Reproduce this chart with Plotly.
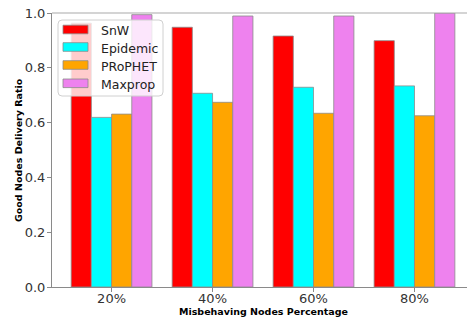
import plotly.graph_objects as go

# Delivery ratio of well-behaved nodes vs share of misbehaving nodes
categories = ["20%", "40%", "60%", "80%"]
snw = [0.963, 0.948, 0.916, 0.899]
epidemic = [0.619, 0.707, 0.729, 0.734]
prophet = [0.631, 0.674, 0.634, 0.625]
maxprop = [0.994, 0.989, 0.989, 1.0]

series_names = ["SnW", "Epidemic", "PRoPHET", "Maxprop"]
series_values = [snw, epidemic, prophet, maxprop]
series_colors = ["#ff0000", "#00ffff", "#ffa500", "#ee82ee"]

y_ticks = [0.0, 0.2, 0.4, 0.6, 0.8, 1.0]

W, H = 467, 320
L, T, B, R = 52, 13, 33, 0
PW, PH = W - L - R, H - T - B

def px(x):
    return (x - L) / PW

def py(y):
    return (H - B - y) / PH

fig = go.Figure()
for name, vals, col in zip(series_names, series_values, series_colors):
    fig.add_trace(go.Bar(
        x=categories, y=vals, name=name,
        marker=dict(color=col, line=dict(color="#8c8c8c", width=0.8)),
        showlegend=False,
    ))

axis_font = dict(family="DejaVu Sans", size=13, color="#333333")
spine = "#8a8a8a"

fig.update_layout(
    width=W, height=H,
    margin=dict(l=L, r=R, t=T, b=B),
    paper_bgcolor="white", plot_bgcolor="white",
    barmode="group", bargap=0.2, bargroupgap=0,
    font=axis_font,
    xaxis=dict(
        type="category", range=[-0.59, 3.52],
        showline=True, linecolor=spine, linewidth=1, mirror=False,
        ticks="outside", ticklen=4, tickcolor=spine, tickwidth=1,
        tickfont=axis_font, showgrid=False, zeroline=False,
        ticklabelstandoff=-5,
    ),
    yaxis=dict(
        range=[0, 1.0], tickvals=y_ticks,
        ticktext=[f"{v:.1f}" for v in y_ticks],
        showline=True, linecolor=spine, linewidth=1,
        ticks="outside", ticklen=4, tickcolor=spine, tickwidth=1,
        tickfont=axis_font, showgrid=False, zeroline=False,
        ticklabelstandoff=-1,
    ),
)

# top spine
fig.add_shape(type="line", xref="paper", yref="paper", x0=0, x1=1, y0=1, y1=1,
              line=dict(color="#aaaaaa", width=1.2))

# axis titles
title_font = dict(family="DejaVu Sans", size=9.5, color="#000000")
fig.add_annotation(text="<b>Misbehaving Nodes Percentage</b>", xref="paper", yref="paper",
                   x=px(263), y=py(311.5), showarrow=False, font=title_font,
                   xanchor="center", yanchor="middle")
fig.add_annotation(text="<b>Good Nodes Delivery Ratio</b>", xref="paper", yref="paper",
                   x=px(18), y=py(150), showarrow=False, font=title_font, textangle=-90,
                   xanchor="center", yanchor="middle")

# legend box with rounded corners
x0, x1, y0, y1, r = px(58), px(163), py(20), py(96), 4
rx, ry = r / PW, r / PH
path = (f"M{x0+rx},{y0} L{x1-rx},{y0} Q{x1},{y0} {x1},{y0-ry} "
        f"L{x1},{y1+ry} Q{x1},{y1} {x1-rx},{y1} L{x0+rx},{y1} Q{x0},{y1} {x0},{y1+ry} "
        f"L{x0},{y0-ry} Q{x0},{y0} {x0+rx},{y0} Z")
fig.add_shape(type="path", path=path, xref="paper", yref="paper",
              fillcolor="rgba(255,255,255,0.8)", line=dict(color="#d0d0d0", width=1))

centers = [29.5, 47.0, 65.0, 83.3]
for name, col, cy in zip(series_names, series_colors, centers):
    fig.add_shape(type="rect", xref="paper", yref="paper",
                  x0=px(63), x1=px(88), y0=py(cy - 4.3), y1=py(cy + 4.3),
                  fillcolor=col, line=dict(color="#8c8c8c", width=0.8))
    fig.add_annotation(text=name, xref="paper", yref="paper", x=px(99), y=py(cy + 1),
                       showarrow=False, xanchor="left", yanchor="middle",
                       font=dict(family="DejaVu Sans", size=12.5, color="#222222"))

fig.write_html("out.html")
